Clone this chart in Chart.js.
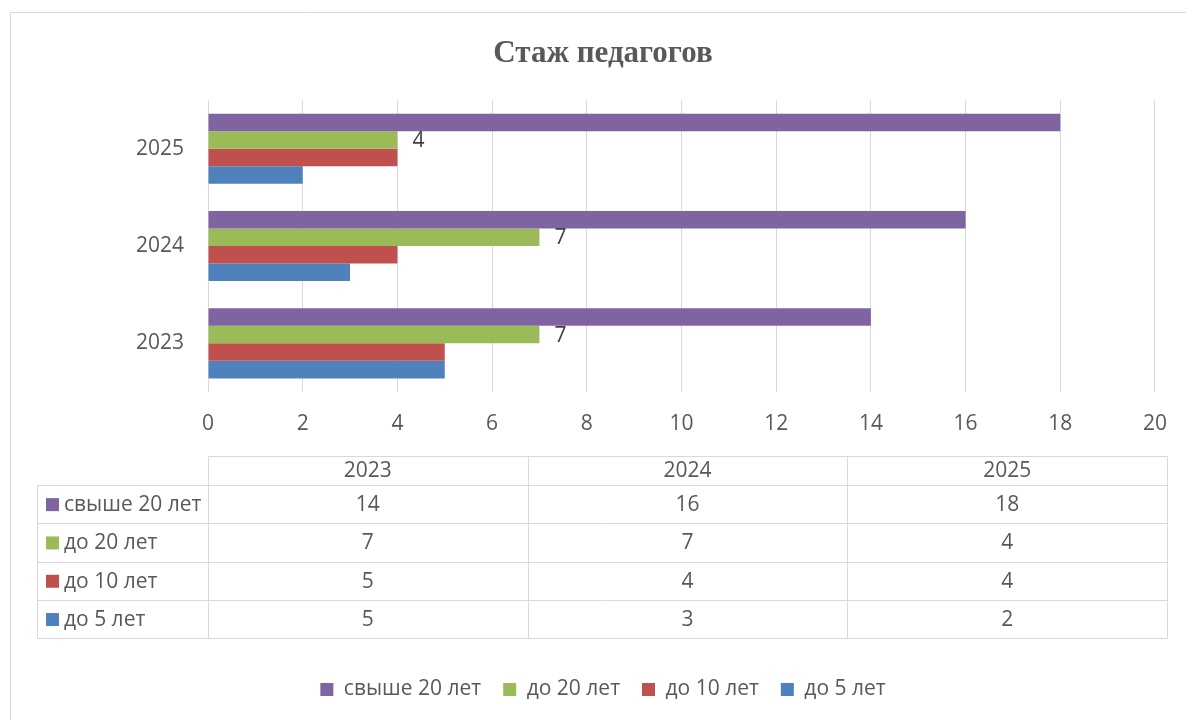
<!DOCTYPE html>
<html>
<head>
<meta charset="utf-8">
<script src="https://cdn.jsdelivr.net/npm/chart.js@4"></script>
<style>
  html, body { margin: 0; padding: 0; background: #fff; }
  #wrap { position: relative; width: 1186px; height: 720px; }
</style>
</head>
<body>
<div id="wrap"><canvas id="chart" width="1186" height="720"></canvas></div>
<script>
// data
const years = ['2023', '2024', '2025'];
const seriesNames = ['свыше 20 лет', 'до 20 лет', 'до 10 лет', 'до 5 лет'];
const over20 = [14, 16, 18];
const upTo20 = [7, 7, 4];
const upTo10 = [5, 4, 4];
const upTo5 = [5, 3, 2];
const seriesColors = ['#8064A2', '#9BBB59', '#C0504D', '#4F81BD'];
const labelledSeries = 1; // only "до 20 лет" has value labels

const FONT = '"Open Sans", "Noto Sans", sans-serif';
const FSIZE = 21;
const TEXT = '#595959';
const LINE = '#d9d9d9';

// outer frame of the chart object
const frame = {
    id: 'frame',
    beforeDraw(chart) {
        const ctx = chart.ctx;
        ctx.save();
        ctx.strokeStyle = LINE;
        ctx.lineWidth = 1;
        ctx.beginPath();
        ctx.moveTo(10.5, 720);
        ctx.lineTo(10.5, 12.5);
        ctx.lineTo(1186, 12.5);
        ctx.stroke();
        ctx.restore();
    }
}

// value labels next to the green bars
const barLabels = {
    id: 'barLabels',
    afterDatasetsDraw(chart) {
        const ctx = chart.ctx;
        const meta = chart.getDatasetMeta(labelledSeries);
        const values = chart.data.datasets[labelledSeries].data;
        ctx.save();
        ctx.font = FSIZE + 'px ' + FONT;
        ctx.fillStyle = '#404040';
        ctx.textAlign = 'left';
        ctx.textBaseline = 'middle';
        meta.data.forEach((bar, i) => {
            ctx.fillText(String(values[i]), bar.x + 15, bar.y + 1);
        })
        ctx.restore();
    }
}

// data table under the x axis
const dataTable = {
    id: 'dataTable',
    afterDraw(chart) {
        const ctx = chart.ctx;
        const area = chart.chartArea;
        const left = area.left;
        const right = area.right + 12;
        const labelLeft = 37;
        const colW = (right - left) / years.length;
        const top = area.bottom + 64;
        const headH = 29;
        const rowH = 38.3;
        const rows = chart.data.datasets.length;
        const bottom = top + headH + rows * rowH;
        const px = (v) => Math.round(v) + 0.5;

        ctx.save();
        ctx.strokeStyle = LINE;
        ctx.lineWidth = 1;
        ctx.beginPath();
        // header row top
        ctx.moveTo(px(left), px(top));
        ctx.lineTo(px(right), px(top));
        for (let r = 0; r <= rows; r++) {
            const y = px(top + headH + r * rowH);
            ctx.moveTo(px(labelLeft), y);
            ctx.lineTo(px(right), y);
        }
        ctx.moveTo(px(labelLeft), px(top + headH));
        ctx.lineTo(px(labelLeft), px(bottom));
        for (let c = 0; c <= years.length; c++) {
            const x = px(left + c * colW);
            ctx.moveTo(x, px(top));
            ctx.lineTo(x, px(bottom));
        }
        ctx.stroke();

        ctx.font = FSIZE + 'px ' + FONT;
        ctx.fillStyle = TEXT;
        ctx.textBaseline = 'middle';
        ctx.textAlign = 'center';
        years.forEach((y, c) => {
            ctx.fillText(y, left + c * colW + colW / 2, top + headH / 2 + 1);
        })
        chart.data.datasets.forEach((ds, r) => {
            const cy = top + headH + r * rowH + rowH / 2;
            ctx.fillStyle = ds.backgroundColor;
            ctx.fillRect(labelLeft + 9, cy - 6, 13, 13);
            ctx.fillStyle = TEXT;
            ctx.textAlign = 'left';
            ctx.fillText(ds.label, labelLeft + 27, cy + 1);
            ctx.textAlign = 'center';
            ds.data.forEach((v, c) => {
                ctx.fillText(String(v), left + c * colW + colW / 2, cy + 1);
            })
        })
        ctx.restore();
    }
}

const seriesData = [over20, upTo20, upTo10, upTo5];

new Chart(document.getElementById('chart'), {
    type: 'bar',
    data: {
        labels: years,
        datasets: seriesNames.map((name, i) => ({
            label: name,
            data: seriesData[i],
            backgroundColor: seriesColors[i],
            borderWidth: 0,
            categoryPercentage: 0.72,
            barPercentage: 1.0
        }))
    },
    options: {
        indexAxis: 'y',
        responsive: false,
        animation: false,
        layout: {
            padding: { left: 49, right: 29, top: 0, bottom: 10 }
        },
        scales: {
            x: {
                min: 0,
                max: 20,
                ticks: {
                    stepSize: 2,
                    padding: 19,
                    color: TEXT,
                    font: { family: FONT, size: FSIZE }
                },
                grid: { color: LINE, lineWidth: 1, drawTicks: false },
                border: { display: false },
                afterFit(scale) { scale.height = 265; }
            },
            y: {
                reverse: true,
                ticks: {
                    padding: 24,
                    color: TEXT,
                    font: { family: FONT, size: FSIZE }
                },
                grid: { display: false, drawTicks: false },
                border: { display: false },
                afterFit(scale) { scale.width = 159; }
            }
        },
        plugins: {
            title: {
                display: true,
                text: 'Стаж педагогов',
                color: TEXT,
                font: { family: '"Liberation Serif", "Times New Roman", serif', size: 31, weight: 'bold' },
                padding: { top: 35, bottom: 28 }
            },
            legend: {
                position: 'bottom',
                labels: {
                    boxWidth: 13,
                    boxHeight: 13,
                    padding: 22,
                    color: TEXT,
                    font: { family: FONT, size: FSIZE }
                }
            },
            tooltip: { enabled: false }
        }
    },
    plugins: [frame, barLabels, dataTable]
})
</script>
</body>
</html>
